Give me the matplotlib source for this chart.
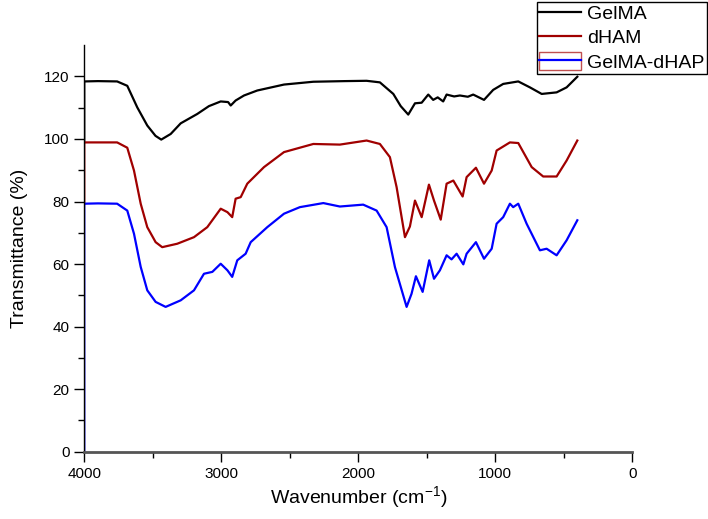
import matplotlib
matplotlib.use("Agg")
import matplotlib.pyplot as plt
from matplotlib.lines import Line2D
from matplotlib.patches import Patch
from matplotlib.legend_handler import HandlerTuple

plt.rcParams['font.family'] = ['Liberation Sans', 'DejaVu Sans']
plt.rcParams['mathtext.fontset'] = 'custom'
plt.rcParams['mathtext.rm'] = 'Liberation Sans'
plt.rcParams['mathtext.it'] = 'Liberation Sans'
plt.rcParams['mathtext.default'] = 'regular'

series_names = ["GelMA", "dHAM", "GelMA-dHAP"]

gelma_x = [4000, 4000, 3900, 3760, 3686, 3613, 3540, 3480, 3438, 3369, 3296, 3175, 3090, 3004,
           2950, 2931, 2895, 2834, 2737, 2542, 2328, 2100, 1939, 1842, 1744, 1690, 1635, 1586,
           1537, 1489, 1453, 1420, 1380, 1355, 1300, 1258, 1200, 1161, 1082, 1015, 942, 832,
           747, 661, 552, 479, 401]
gelma_y = [99, 118.4, 118.5, 118.4, 117.0, 110.1, 104.3, 101.0, 99.8, 101.6, 105.0, 108.0, 110.5, 112.0,
           111.8, 110.7, 112.3, 113.9, 115.5, 117.4, 118.3, 118.5, 118.6, 118.1, 114.4, 110.5, 107.8, 111.4,
           111.6, 114.2, 112.5, 113.3, 112.0, 114.2, 113.6, 113.9, 113.5, 114.2, 112.5, 115.7, 117.6, 118.4,
           116.5, 114.4, 114.9, 116.5, 119.9]

dham_x = [4000, 4000, 3900, 3760, 3686, 3637, 3588, 3540, 3479, 3431, 3321, 3199, 3102, 3004,
          2955, 2920, 2895, 2858, 2810, 2688, 2542, 2328, 2134, 1939, 1842, 1769, 1720, 1659,
          1623, 1586, 1537, 1484, 1447, 1398, 1355, 1306, 1238, 1209, 1141, 1082, 1026, 990,
          893, 832, 734, 650, 552, 479, 401]
dham_y = [79.3, 98.9, 98.9, 98.9, 97.2, 89.9, 79.3, 71.8, 67.0, 65.4, 66.5, 68.6, 71.8, 77.7,
          76.6, 75.0, 80.9, 81.4, 85.7, 91.0, 95.8, 98.4, 98.2, 99.5, 98.4, 94.2, 84.6, 68.6,
          72.0, 80.3, 75.0, 85.4, 80.3, 74.2, 85.7, 86.7, 81.6, 87.8, 90.8, 85.7, 89.9, 96.3,
          98.9, 98.7, 91.0, 88.0, 88.0, 93.1, 99.5]

dhap_x = [4000, 4000, 3900, 3760, 3686, 3637, 3588, 3540, 3479, 3406, 3296, 3199, 3126, 3065,
          3004, 2955, 2920, 2883, 2822, 2785, 2664, 2542, 2426, 2255, 2134, 1964, 1866, 1793,
          1732, 1647, 1611, 1579, 1530, 1482, 1447, 1404, 1355, 1319, 1282, 1233, 1209, 1141,
          1082, 1026, 990, 942, 893, 869, 832, 771, 674, 625, 552, 479, 401]
dhap_y = [0, 79.3, 79.4, 79.3, 77.1, 69.7, 59.1, 51.6, 47.9, 46.3, 48.4, 51.6, 56.9, 57.5,
          60.1, 58.0, 55.9, 61.2, 63.3, 67.0, 71.8, 76.1, 78.2, 79.5, 78.4, 79.0, 77.1, 71.8,
          59.0, 46.3, 50.5, 56.1, 51.1, 61.2, 55.3, 58.0, 62.8, 61.5, 63.3, 59.9, 63.3, 67.0,
          61.7, 64.9, 72.9, 75.0, 79.3, 78.2, 79.3, 72.9, 64.4, 64.9, 62.8, 67.6, 74.0]

colors = ["#000000", "#a00000", "#0000ff"]

fig = plt.figure(figsize=(7.08, 5.19), dpi=100)
ax = fig.add_axes([0.119, 0.1297, 0.774, 0.7833])

ax.plot(gelma_x, gelma_y, color=colors[0], lw=1.6)
ax.plot(dham_x, dham_y, color=colors[1], lw=1.6)
ax.plot(dhap_x, dhap_y, color=colors[2], lw=1.6)

ax.set_xlim(4000, 0)
ax.set_ylim(0, 130)
ax.set_xticks([4000, 3000, 2000, 1000, 0])
ax.set_xticks([3500, 2500, 1500, 500], minor=True)
ax.set_yticks([0, 20, 40, 60, 80, 100, 120])
ax.set_yticks([10, 30, 50, 70, 90, 110], minor=True)

ax.spines['top'].set_visible(False)
ax.spines['right'].set_visible(False)
ax.spines['left'].set_color('black')
ax.spines['left'].set_linewidth(1.0)
ax.spines['bottom'].set_color('#555555')
ax.spines['bottom'].set_linewidth(2.0)

ax.tick_params(axis='both', which='major', direction='out', length=7, width=1, labelsize=11, color='black')
ax.tick_params(axis='both', which='minor', direction='out', length=4, width=1, color='black')
ax.tick_params(axis='x', which='major', pad=4)

ax.set_xlabel("Wavenumber (cm$^{-1}$)", fontsize=14, labelpad=2)
ax.set_ylabel("Transmittance (%)", fontsize=14, labelpad=12)

h1 = Line2D([], [], color=colors[0], lw=1.6)
h2 = Line2D([], [], color=colors[1], lw=1.6)
h3 = (Patch(facecolor='white', edgecolor='#c05050', lw=1.0), Line2D([], [], color=colors[2], lw=1.6))
leg = fig.legend([h1, h2, h3], series_names, loc='upper right',
                 bbox_to_anchor=(0.998, 0.997), fontsize=14, frameon=True, fancybox=False,
                 edgecolor='black', framealpha=1, borderpad=0.12, labelspacing=0.25,
                 handlelength=2.15, handleheight=1.0, handletextpad=0.3, borderaxespad=0,
                 handler_map={tuple: HandlerTuple(ndivide=1, pad=0)})
leg.get_frame().set_linewidth(1.0)

fig.savefig("out.png", dpi=100)
